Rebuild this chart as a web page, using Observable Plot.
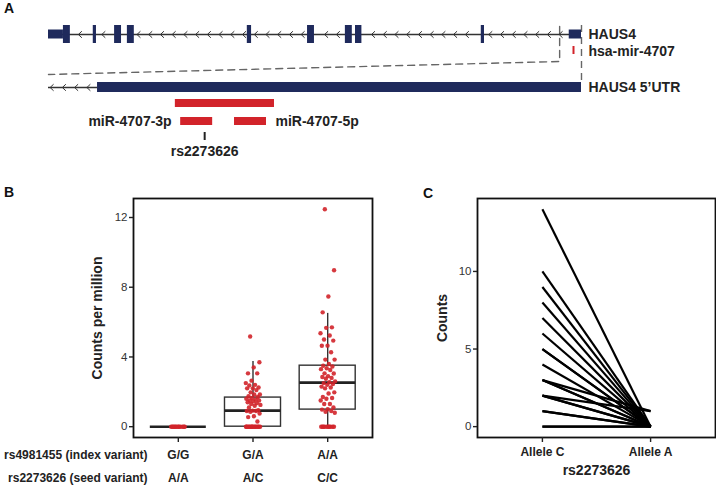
<!DOCTYPE html>
<html><head><meta charset="utf-8">
<script src="https://cdn.jsdelivr.net/npm/d3@7"></script>
<script src="https://cdn.jsdelivr.net/npm/@observablehq/plot@0.6"></script>
<style>
body{margin:0;background:#fff;}
#fig{position:relative;width:716px;height:485px;font-family:"Liberation Sans",Arial,Helvetica,sans-serif;overflow:hidden;background:#fff}
.pl{position:absolute;font-weight:bold;font-size:14px;line-height:14px;color:#111}
</style></head><body>
<div id="fig">
<div id="pA" style="position:absolute;left:0;top:0"></div>
<div id="pB" style="position:absolute;left:0;top:160px"></div>
<div id="pC" style="position:absolute;left:400px;top:160px"></div>
<div class="pl" style="left:4px;top:1px">A</div>
<div class="pl" style="left:4px;top:185px">B</div>
<div class="pl" style="left:423px;top:186px">C</div>
</div>
<script>
// ---------------- Panel A data (gene model, units along HAUS4: 0 = 3' end, 100 = 5' end) ----------------
const geneName = "HAUS4";
const exonStart = [0, 2.8, 8.4, 12.4, 14.8, 37.3, 48.6, 55.7, 57.6, 81.2, 97.7];
const exonEnd   = [2.8, 4.1, 9.0, 13.7, 16.1, 38.1, 49.9, 57.0, 58.8, 81.8, 100];
const exonType  = ["UTR","CDS","CDS","CDS","CDS","CDS","CDS","CDS","CDS","CDS","UTR"];
const mirGeneName = "hsa-mir-4707";
const mirGenePos = [98.5];
const zoomWindow = [95.9, 100];
const utrName = "HAUS4 5\u2019UTR";
const utrStart = [9.2], utrEnd = [100];
const mirNames = ["pre-miR-4707", "miR-4707-3p", "miR-4707-5p"];
const mirStart = [23.8, 24.8, 34.9];
const mirEnd   = [42.4, 30.8, 40.9];
const snpName = ["rs2273626"];
const snpPos = [29.3];

// ---------------- Panel B data ----------------
const gtIndex = ["G/G","G/A","A/A"];          // rs4981455 (index variant)
const gtSeed  = ["A/A","A/C","C/C"];          // rs2273626 (seed variant)
const cpmGG = [0,0,0,0,0,0,0,0,0,0,0,0];
const cpmGA = [5.17,3.7,3.4,3.06,3.06,2.64,2.5,2.4,2.36,2.25,2.2,2.2,2.1,1.97,1.85,1.85,1.75,1.7,1.65,1.6,1.55,1.5,1.5,1.45,1.4,1.35,1.3,1.25,1.2,1.1,0.95,0.92,0.9,0.9,0.85,0.75,0.6,0.55,0.3,0,0,0,0,0,0,0,0,0,0,0,0,0,0,0];
const cpmAA = [12.47,8.97,7.47,6.56,5.7,5.67,5.36,5.23,5.0,4.94,4.65,4.64,4.27,3.85,3.85,3.6,3.5,3.45,3.35,3.3,3.25,3.06,3.05,2.9,2.85,2.8,2.75,2.6,2.55,2.5,2.45,2.4,2.3,2.25,2.2,1.97,1.9,1.7,1.65,1.6,1.5,1.3,1.3,1.1,1.0,0.98,0.9,0.85,0.8,0,0,0,0,0,0,0,0,0,0];
const boxLow  = [0, 0, 0];
const boxQ1   = [0, 0, 0.98];
const boxMed  = [0, 0.92, 2.53];
const boxQ3   = [0, 1.67, 3.5];
const boxHigh = [0, 3.74, 6.5];
const yTicksB = [0, 4, 8, 12];

// ---------------- Panel C data ----------------
const alleleNames = ["Allele C", "Allele A"];
const countC = [14,10,9,8,7,6,5,5,4,3,3,3,2,2,2,1,1,0,0];
const countA = [0,0,0,0,0,0,0,0,0,0,1,0,0,1,0,0,0,0,0];
const yTicksC = [0, 5, 10];

// ---------------- styling / layout ----------------
const FONT = '"Liberation Sans", Arial, Helvetica, sans-serif';
const NAVY = "#1f2a5c", RED = "#d2232a", DASH = "#666", TICKTXT = "#333";
const row = {gene: 34, mirGene: 50, utr: 87, pre: 103, mature: 121, snp: 136, snpLabel: 151};
const exonH = {UTR: 9, CDS: 18};

function chevrons(from, to, step, y, skip) {
  const out = [];
  let k = 0;
  for (let u = from; u <= to; u += step) {
    k++;
    if (skip.some(([a, b]) => u > a - 0.9 && u < b + 0.3)) continue;
    out.push({k, x: u + 0.6, y: y - 3}, {k, x: u, y}, {k, x: u + 0.6, y: y + 3});
  }
  return out;
}
const exons = exonStart.map((s, i) => ({s, e: exonEnd[i], t: exonType[i]}));
const geneChev = chevrons(5.6, 96, 2.2, row.gene, exons.map(d => [d.s, d.e]));
const utrChev = chevrons(0.3, 8.0, 2.3, row.utr, []);
const mirs = mirNames.map((n, i) => ({n, s: mirStart[i], e: mirEnd[i], y: i === 0 ? row.pre : row.mature}));

const plotA = Plot.plot({
  width: 716, height: 160, marginTop: 0, marginRight: 0, marginBottom: 0, marginLeft: 0,
  x: {domain: [-9.006, 125.33], range: [0, 716], axis: null},
  y: {domain: [0, 160], range: [0, 160], axis: null},
  style: {fontFamily: FONT, overflow: "visible", background: "transparent"},
  marks: [
    Plot.line([{x: zoomWindow[0], y: 26}, {x: zoomWindow[0], y: 61}, {x: 0, y: 74}], {x: "x", y: "y", stroke: DASH, strokeWidth: 1.4, strokeDasharray: "7,5"}),
    Plot.ruleX([zoomWindow[1]], {y1: 25, y2: 80, stroke: DASH, strokeWidth: 1.4, strokeDasharray: "7,5"}),
    Plot.ruleY([row.gene], {x1: 0, x2: 100, stroke: "#333", strokeWidth: 1.4}),
    Plot.line(geneChev, {x: "x", y: "y", z: "k", stroke: "#333", strokeWidth: 1}),
    Plot.rect(exons, {x1: "s", x2: "e", y1: d => row.gene - exonH[d.t] / 2, y2: d => row.gene + exonH[d.t] / 2, fill: NAVY}),
    Plot.ruleX(mirGenePos, {y1: row.mirGene - 4, y2: row.mirGene + 4, stroke: RED, strokeWidth: 2}),
    Plot.text([geneName], {x: zoomWindow[1], y: row.gene, dx: 7, textAnchor: "start", fontSize: 14, fontWeight: "bold", fill: "#222"}),
    Plot.text([mirGeneName], {x: zoomWindow[1], y: row.mirGene + 1, dx: 7, textAnchor: "start", fontSize: 14, fontWeight: "bold", fill: "#222"}),
    // zoomed 5'UTR track
    Plot.ruleY([row.utr], {x1: 0, x2: utrStart[0], stroke: "#333", strokeWidth: 1.4}),
    Plot.line(utrChev, {x: "x", y: "y", z: "k", stroke: "#333", strokeWidth: 1}),
    Plot.rect(utrStart.map((s, i) => ({s, e: utrEnd[i]})), {x1: "s", x2: "e", y1: row.utr - 5, y2: row.utr + 5, fill: NAVY}),
    Plot.text([utrName], {x: utrEnd[0], y: row.utr, dx: 7, textAnchor: "start", fontSize: 14, fontWeight: "bold", fill: "#222"}),
    Plot.rect(mirs, {x1: "s", x2: "e", y1: d => d.y - 4, y2: d => d.y + 4, fill: RED}),
    Plot.text([mirs[1]], {x: "s", y: "y", text: "n", dx: -9, textAnchor: "end", fontSize: 14, fontWeight: "bold", fill: "#222"}),
    Plot.text([mirs[2]], {x: "e", y: "y", text: "n", dx: 9, textAnchor: "start", fontSize: 14, fontWeight: "bold", fill: "#222"}),
    Plot.ruleX(snpPos, {y1: row.snp - 4, y2: row.snp + 4, stroke: "#222", strokeWidth: 2}),
    Plot.text(snpName, {x: () => snpPos[0], y: row.snpLabel, fontSize: 14, fontWeight: "bold", fill: "#222"})
  ]
});
document.getElementById("pA").append(plotA);

// ---------------- Panel B ----------------
function jitter(i) { return (((i * 0.6180339887 + 0.31) % 1) - 0.5) * 0.2; }
const pts = [cpmGG, cpmGA, cpmAA].flatMap((arr, g) => arr.map((v, i) => ({g: g + 1, v, j: jitter(i)})));
const boxes = gtIndex.map((k, i) => ({g: i + 1, lo: boxLow[i], q1: boxQ1[i], med: boxMed[i], q3: boxQ3[i], hi: boxHigh[i]}));
const BW = 0.375;
const plotB = Plot.plot({
  width: 400, height: 325, marginLeft: 133, marginRight: 28, marginTop: 38, marginBottom: 48,
  x: {domain: [0.4, 3.6], axis: null},
  y: {domain: [-0.62, 13.09], axis: null},
  style: {fontFamily: FONT, fontSize: "11.5px", overflow: "visible", background: "transparent", color: "#222"},
  marks: [
    Plot.ruleX(boxes, {x: "g", y1: "q3", y2: "hi", stroke: "#333", strokeWidth: 1.4}),
    Plot.ruleX(boxes, {x: "g", y1: "lo", y2: "q1", stroke: "#333", strokeWidth: 1.4}),
    Plot.rect(boxes, {x1: d => d.g - BW, x2: d => d.g + BW, y1: "q1", y2: "q3", fill: "none", stroke: "#333", strokeWidth: 1.4}),
    Plot.ruleY(boxes, {y: "med", x1: d => d.g - BW, x2: d => d.g + BW, stroke: "#222", strokeWidth: 2.6}),
    Plot.dot(pts, {x: d => d.g + d.j, y: "v", r: 2.2, fill: RED, fillOpacity: 0.9, stroke: "none"}),
    Plot.frame({stroke: "#111", strokeWidth: 1.8}),
    Plot.axisY({ticks: yTicksB, tickSize: 4, tickPadding: 2, label: null, fill: TICKTXT, stroke: "#222", strokeWidth: 1.4, fontSize: 11.5}),
    Plot.axisX({ticks: [1, 2, 3], tickSize: 5, tickFormat: () => "", label: null, stroke: "#222", strokeWidth: 1.4}),
    Plot.text(gtIndex, {x: (d, i) => i + 1, frameAnchor: "bottom", lineAnchor: "middle", dy: 18, fontSize: 12, fontWeight: "bold", fill: "#222"}),
    Plot.text(gtSeed, {x: (d, i) => i + 1, frameAnchor: "bottom", lineAnchor: "middle", dy: 41, fontSize: 12, fontWeight: "bold", fill: "#222"}),
    Plot.text(["rs4981455 (index variant)"], {frameAnchor: "bottom-left", lineAnchor: "middle", dx: 14, dy: 18, textAnchor: "end", fontSize: 12, fontWeight: "bold", fill: "#222"}),
    Plot.text(["rs2273626 (seed variant)"], {frameAnchor: "bottom-left", lineAnchor: "middle", dx: 14, dy: 41, textAnchor: "end", fontSize: 12, fontWeight: "bold", fill: "#222"}),
    Plot.text(["Counts per million"], {frameAnchor: "left", textAnchor: "middle", lineAnchor: "middle", dx: -36, rotate: -90, fontSize: 14, fontWeight: "bold", fill: "#222"})
  ]
});
document.getElementById("pB").append(plotB);

// ---------------- Panel C ----------------
const pairs = countC.map((c, i) => ({c, a: countA[i]}));
const plotC = Plot.plot({
  width: 316, height: 325, marginLeft: 77, marginRight: 1, marginTop: 38, marginBottom: 48,
  x: {domain: [0.4, 2.6], axis: null},
  y: {domain: [-0.7, 14.7], axis: null},
  style: {fontFamily: FONT, fontSize: "11.5px", overflow: "visible", background: "transparent", color: "#222"},
  marks: [
    Plot.link(pairs, {x1: () => 1, x2: () => 2, y1: "c", y2: "a", stroke: "#000", strokeWidth: 2.2}),
    Plot.frame({stroke: "#111", strokeWidth: 1.8}),
    Plot.axisY({ticks: yTicksC, tickSize: 4, tickPadding: 2, label: null, fill: TICKTXT, stroke: "#222", strokeWidth: 1.4, fontSize: 11.5}),
    Plot.axisX({ticks: [1, 2], tickSize: 5, tickFormat: () => "", label: null, stroke: "#222", strokeWidth: 1.4}),
    Plot.text(alleleNames, {x: (d, i) => i + 1, frameAnchor: "bottom", lineAnchor: "middle", dy: 15, fontSize: 12, fontWeight: "bold", fill: "#222"}),
    Plot.text(["rs2273626"], {frameAnchor: "bottom", lineAnchor: "middle", dy: 33, fontSize: 14, fontWeight: "bold", fill: "#222"}),
    Plot.text(["Counts"], {frameAnchor: "left", textAnchor: "middle", lineAnchor: "middle", dx: -35, rotate: -90, fontSize: 14, fontWeight: "bold", fill: "#222"})
  ]
});
document.getElementById("pC").append(plotC);
</script>
</body></html>
